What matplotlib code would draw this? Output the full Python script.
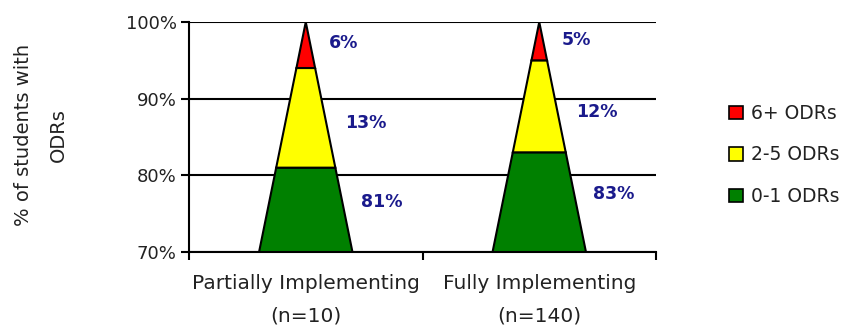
import numpy as np
import matplotlib.pyplot as plt
from matplotlib.patches import Polygon, Patch

categories = ["Partially Implementing\n(n=10)", "Fully Implementing\n(n=140)"]
series = ["0-1 ODRs", "2-5 ODRs", "6+ ODRs"]
colors = ["#008000", "#FFFF00", "#FF0000"]
values = [[81, 13, 6],   # partially
          [83, 12, 5]]   # fully

ymin, ymax = 70, 100
base_w = 0.4  # base width of the pyramid in category units

plt.rcParams['font.family'] = ['DejaVu Sans']

fig = plt.figure(figsize=(8.48, 3.32), dpi=100)
ax = fig.add_axes([0.2229, 0.241, 0.5507, 0.6927])


def half_w(y):
    return base_w / 2 * (ymax - y) / (ymax - ymin)


# small nudges of the value labels, like the original
nudge = [1.0, -0.7, 0.2]

for i, vals in enumerate(values):
    tops = np.cumsum(vals)
    bottoms = np.concatenate([[0], tops[:-1]])
    for k, (b, t) in enumerate(zip(bottoms, tops)):
        lo = max(b, ymin)
        hi = min(t, ymax)
        verts = [(i - half_w(lo), lo), (i + half_w(lo), lo),
                 (i + half_w(hi), hi), (i - half_w(hi), hi)]
        ax.add_patch(Polygon(verts, closed=True, facecolor=colors[k],
                             edgecolor="black", lw=1.5, zorder=3))
        ymid = (lo + hi) / 2 + nudge[k]
        ax.text(i + half_w(ymid) + 0.08, ymid, f"{vals[k]}%", color="#1A1A8C",
                fontsize=12.5, fontweight="bold", ha="left", va="center", zorder=4)

ax.set_xlim(-0.5, 1.5)
ax.set_ylim(ymin, ymax)
ax.set_yticks([70, 80, 90, 100])
ax.set_yticklabels(["70%", "80%", "90%", "100%"], fontsize=13, color="#222222")
ax.yaxis.grid(True, color="black", lw=1.5, zorder=1)
ax.set_axisbelow(True)

ax.set_xticks([-0.5, 0.5, 1.5])
ax.set_xticklabels([])
ax.set_xticks([0, 1], minor=True)
ax.set_xticklabels(categories, minor=True, fontsize=14.5, color="#222222", linespacing=1.9)
ax.tick_params(axis="x", which="minor", length=0, pad=16)
ax.tick_params(axis="x", which="major", length=6, width=1.5)
ax.tick_params(axis="y", length=6, width=1.5, pad=3)

for s in ["top", "right"]:
    ax.spines[s].set_visible(False)
ax.spines["left"].set_linewidth(1.5)
ax.spines["bottom"].set_linewidth(1.5)

fig.text(41 / 848, 1 - 135 / 332, "% of students with\nODRs", rotation=90,
         ha="center", va="center", multialignment="center", fontsize=14,
         color="#222222", linespacing=2.0)

handles = [Patch(facecolor=colors[k], edgecolor="black", lw=1.2, label=series[k])
           for k in [2, 1, 0]]
fig.legend(handles=handles, loc="center left", bbox_to_anchor=(712 / 848, 1 - 155 / 332),
           frameon=False, fontsize=13.5, handlelength=0.75, handleheight=0.75,
           handletextpad=0.45, labelspacing=1.2, labelcolor="#222222")

fig.savefig("out.png", dpi=100)
